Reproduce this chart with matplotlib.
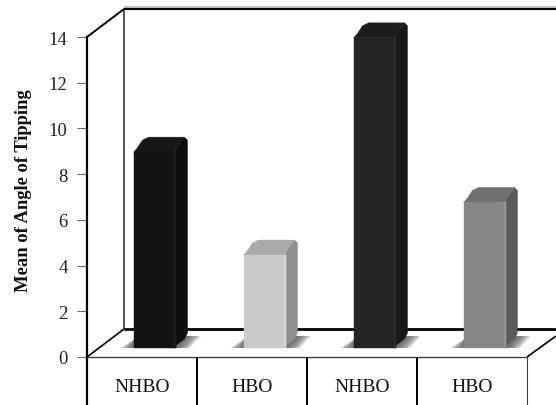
import matplotlib
matplotlib.use("Agg")
import matplotlib.pyplot as plt
from matplotlib.patches import Polygon
from matplotlib.ticker import FixedLocator, FixedFormatter

categories = ["NHBO", "HBO", "NHBO", "HBO"]
values = [8.7, 4.2, 13.7, 6.5]
front_colors = ["#131313", "#c9c9c9", "#232323", "#868686"]
band_colors = ["#1c1c1c", "#d6d6d6", "#2c2c2c", "#949494"]
side_colors = ["#0e0e0e", "#8f8f8f", "#181818", "#5b5b5b"]
top_colors = ["#171717", "#aaaaaa", "#1c1c1c", "#707070"]
y_ticks = [0, 2, 4, 6, 8, 10, 12, 14]

W, H = 556, 406
LEFT, RIGHT, BOTTOM, TOP = 87, 527, 358, 38
px_x = 4 / (RIGHT - LEFT)          # data units per pixel, horizontally
px_y = 14 / (BOTTOM - TOP)         # data units per pixel, vertically
wall_dx, wall_dy = 37 * px_x, 28 * px_y
bar_w = 42 * px_x
bar_dx, bar_dy = 12 * px_x, 12 * px_y
bar_lift = 9 * px_y
bar_inset = 46.5 * px_x

plt.rcParams["font.family"] = ["Liberation Serif", "DejaVu Serif"]
fig = plt.figure(figsize=(W / 100, H / 100), dpi=100)
ax = fig.add_axes([LEFT / W, 1 - BOTTOM / H, (RIGHT - LEFT) / W, (BOTTOM - TOP) / H])
ax.set_xlim(0, 4)
ax.set_ylim(0, 14)
ax.patch.set_visible(False)
for name in ("top", "right", "bottom"):
    ax.spines[name].set_visible(False)
ax.spines["left"].set_linewidth(1.6)
ax.spines["left"].set_color("black")


def frame_line(xs, ys, color="black", lw=1.5, z=1):
    ax.plot(xs, ys, color=color, lw=lw, clip_on=False, zorder=z, solid_capstyle="butt")


def face(points, color, z=3):
    ax.add_patch(Polygon(points, closed=True, fc=color, ec=color, lw=0.3, clip_on=False, zorder=z))


# back wall and floor edges
frame_line([wall_dx, wall_dx], [wall_dy, 14 + wall_dy], color="#333333", lw=1.2)
frame_line([wall_dx, 4.3], [14 + wall_dy + 1.8 * px_y] * 2, color="#b5b5b5", lw=1.2)
frame_line([wall_dx, 4.3], [14 + wall_dy] * 2, lw=1.5)
frame_line([wall_dx, 4.3], [wall_dy, wall_dy], lw=2.0)
frame_line([0, wall_dx], [14, 14 + wall_dy], lw=1.4)
frame_line([0, wall_dx], [0, wall_dy], lw=1.2)
frame_line([4, 4 + 29 * px_x], [0, 21 * px_y], lw=1.2)
frame_line([0, 4], [0, 0], color="#333333", lw=0.9, z=4)

# category cells below the floor
below = -48 * px_y
frame_line([0, 0], [0, below], lw=1.6)
for i in (1, 2, 3):
    frame_line([i, i], [0, below], lw=1.4)
frame_line([4, 4], [0, below], color="#444444", lw=0.8)

for i, value in enumerate(values):
    x0 = i + bar_inset
    x1 = x0 + bar_w
    base = bar_lift
    top = base + value
    # soft floor shadow behind each bar, built up in layers
    for k in range(9):
        grow = (9 - k) * 1.5
        shadow = [
            (x0 - grow * px_x, base),
            (x0 + 1 * px_x, base + 9 * px_y),
            (x1 + 12 * px_x, base + 12 * px_y),
            (x1 + (12 + grow) * px_x, base + 12 * px_y),
            (x1 + (1 + grow) * px_x, base),
        ]
        ax.add_patch(Polygon(shadow, closed=True, fc="#555555", ec="none", alpha=0.16,
                             clip_on=False, zorder=2))
    # side, top and front faces with slightly chamfered corners
    cx, cy = 3 * px_x, 3 * px_y
    side = [(x1 - cx, base), (x1 + bar_dx - cx, base + bar_dy - cy),
            (x1 + bar_dx, base + bar_dy + cy), (x1 + bar_dx, top + bar_dy - cy),
            (x1 + bar_dx - cx, top + bar_dy), (x1, top)]
    roof = [(x0, top - cy), (x0 + cx, top), (x0 + bar_dx - cx, top + bar_dy - cy),
            (x0 + bar_dx + cx, top + bar_dy),
            (x1 + bar_dx - cx, top + bar_dy), (x1, top), (x1, top - cy)]
    front = [(x0, base), (x1, base), (x1, top - cy), (x0, top - cy)]
    band = [(x1 - 2 * px_x, base), (x1, base), (x1, top - cy), (x1 - 2 * px_x, top - cy)]
    face(side, side_colors[i])
    face(roof, top_colors[i])
    face(front, front_colors[i])
    face(band, band_colors[i])

ax.yaxis.set_major_locator(FixedLocator(y_ticks))
ax.yaxis.set_major_formatter(FixedFormatter([str(t) for t in y_ticks]))
ax.tick_params(axis="y", length=7, width=0.8, color="#666666", pad=7, labelsize=13.5, labelcolor="#222222")
ax.xaxis.set_major_locator(FixedLocator([0.5, 1.5, 2.5, 3.5]))
ax.xaxis.set_major_formatter(FixedFormatter(categories))
ax.tick_params(axis="x", length=0, pad=15, labelsize=14, labelcolor="#111111")

fig.text(24 / W, 1 - 191 / H, "Mean of Angle of Tipping", rotation=90, ha="center", va="center",
         fontsize=13.4, fontweight="bold", color="#111111")

fig.savefig("out.png", dpi=100)
